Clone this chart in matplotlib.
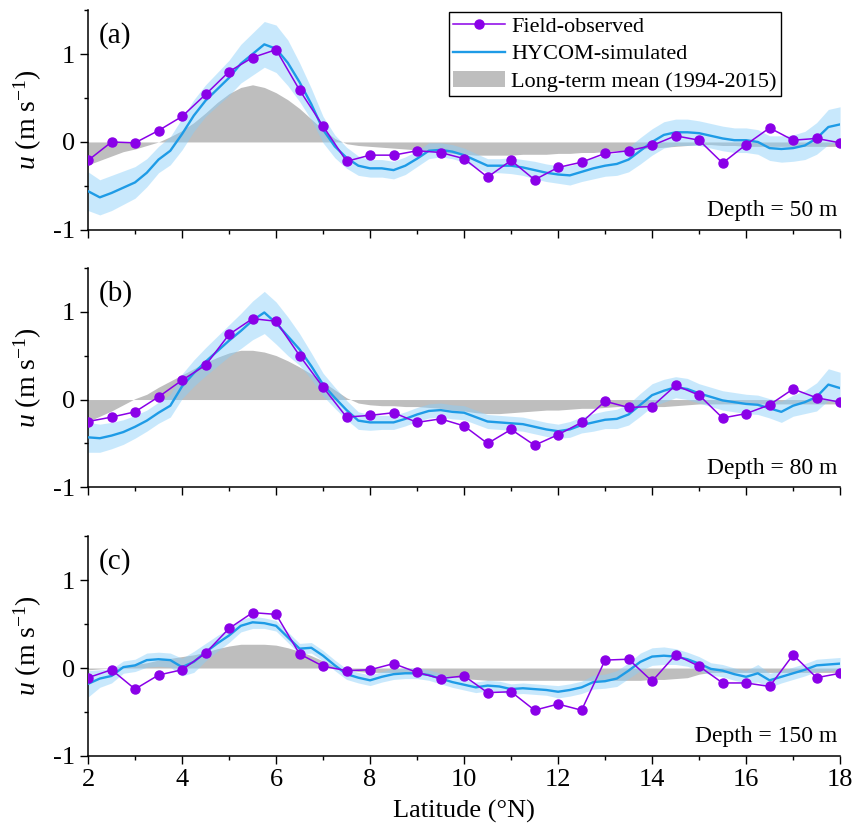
import numpy as np
import matplotlib
matplotlib.use('Agg')
import matplotlib.pyplot as plt
from matplotlib.ticker import MultipleLocator

plt.rcParams['font.family'] = 'Liberation Serif'
plt.rcParams['mathtext.fontset'] = 'custom'
plt.rcParams['mathtext.rm'] = 'Liberation Serif'
plt.rcParams['mathtext.it'] = 'Liberation Serif:italic'
plt.rcParams['axes.unicode_minus'] = False

# field stations every 0.5 deg, model / climatology every 0.25 deg
lat_obs = np.arange(2.0, 18.01, 0.5)
lat_mod = np.arange(2.0, 18.01, 0.25)

obs_50 = [-0.21, 0.00, -0.01, 0.13, 0.29, 0.54, 0.80, 0.96, 1.05, 0.59, 0.18,
          -0.22, -0.15, -0.15, -0.10, -0.12, -0.19, -0.40, -0.21, -0.43, -0.29,
          -0.23, -0.13, -0.10, -0.04, 0.07, 0.02, -0.24, -0.03, 0.16, 0.02, 0.04, -0.01]
obs_80 = [-0.25, -0.20, -0.14, 0.03, 0.22, 0.39, 0.74, 0.92, 0.89, 0.50, 0.14,
          -0.20, -0.18, -0.15, -0.26, -0.22, -0.30, -0.50, -0.34, -0.52, -0.40,
          -0.26, -0.02, -0.09, -0.08, 0.16, 0.05, -0.21, -0.16, -0.06, 0.12, 0.02, -0.03]
obs_150 = [-0.11, -0.02, -0.24, -0.08, -0.02, 0.17, 0.45, 0.63, 0.61, 0.16, 0.02,
           -0.03, -0.02, 0.05, -0.05, -0.12, -0.09, -0.28, -0.27, -0.48, -0.41,
           -0.48, 0.09, 0.10, -0.15, 0.15, 0.02, -0.17, -0.17, -0.21, 0.15, -0.11, -0.06]

hycom_50 = [-0.56, -0.63, -0.58, -0.52, -0.46, -0.35, -0.20, -0.10, 0.09,
            0.30, 0.47, 0.60, 0.73, 0.89, 1.00, 1.11, 1.06,
            0.90, 0.68, 0.43, 0.14, -0.05, -0.18, -0.27, -0.30,
            -0.30, -0.32, -0.27, -0.19, -0.10, -0.09, -0.11, -0.15,
            -0.21, -0.27, -0.27, -0.27, -0.29, -0.32, -0.35, -0.37,
            -0.38, -0.34, -0.30, -0.27, -0.25, -0.20, -0.10, 0.00,
            0.08, 0.11, 0.11, 0.10, 0.07, 0.04, 0.02, 0.02,
            0.00, -0.07, -0.08, -0.07, -0.04, 0.04, 0.17, 0.20]
hycom_80 = [-0.43, -0.44, -0.41, -0.37, -0.31, -0.24, -0.15, -0.07, 0.15,
            0.30, 0.43, 0.55, 0.67, 0.78, 0.90, 0.99, 0.87,
            0.72, 0.57, 0.38, 0.17, 0.02, -0.12, -0.24, -0.26,
            -0.26, -0.26, -0.22, -0.17, -0.13, -0.12, -0.14, -0.15,
            -0.20, -0.25, -0.26, -0.27, -0.28, -0.31, -0.34, -0.36,
            -0.34, -0.29, -0.26, -0.23, -0.22, -0.17, -0.06, 0.05,
            0.10, 0.14, 0.12, 0.07, 0.03, -0.01, -0.03, -0.05,
            -0.06, -0.10, -0.14, -0.07, -0.03, 0.03, 0.17, 0.13]
hycom_150 = [-0.18, -0.12, -0.09, 0.01, 0.03, 0.09, 0.10, 0.09, 0.01,
             0.07, 0.18, 0.28, 0.37, 0.48, 0.52, 0.51, 0.48,
             0.35, 0.22, 0.23, 0.14, 0.03, -0.07, -0.11, -0.14,
             -0.10, -0.07, -0.06, -0.06, -0.08, -0.12, -0.16, -0.19,
             -0.22, -0.20, -0.21, -0.24, -0.23, -0.24, -0.25, -0.27,
             -0.25, -0.22, -0.16, -0.15, -0.12, -0.03, 0.07, 0.13,
             0.14, 0.13, 0.10, 0.05, -0.01, -0.03, -0.07, -0.10,
             -0.06, -0.14, -0.10, -0.06, -0.02, 0.03, 0.04, 0.05]

# half width of the shaded HYCOM range
spread_50 = [0.22, 0.20, 0.20, 0.19, 0.18, 0.16, 0.15, 0.16, 0.18,
             0.18, 0.18, 0.19, 0.20, 0.22, 0.24, 0.26, 0.27,
             0.26, 0.22, 0.18, 0.15, 0.13, 0.12, 0.11, 0.10,
             0.10, 0.10, 0.10, 0.09, 0.09, 0.08, 0.08, 0.08,
             0.08, 0.08, 0.08, 0.09, 0.09, 0.10, 0.10, 0.10,
             0.11, 0.11, 0.12, 0.12, 0.13, 0.14, 0.15, 0.15,
             0.15, 0.15, 0.15, 0.14, 0.14, 0.14, 0.14, 0.14,
             0.14, 0.14, 0.15, 0.15, 0.16, 0.18, 0.20, 0.20]
spread_80 = [0.17, 0.16, 0.15, 0.14, 0.13, 0.12, 0.12, 0.13, 0.14,
             0.15, 0.16, 0.17, 0.18, 0.20, 0.22, 0.24, 0.24,
             0.22, 0.18, 0.15, 0.13, 0.12, 0.11, 0.10, 0.09,
             0.08, 0.08, 0.08, 0.08, 0.08, 0.08, 0.08, 0.08,
             0.08, 0.08, 0.08, 0.08, 0.08, 0.08, 0.08, 0.08,
             0.09, 0.09, 0.10, 0.10, 0.11, 0.12, 0.13, 0.13,
             0.13, 0.12, 0.12, 0.11, 0.11, 0.11, 0.11, 0.11,
             0.11, 0.11, 0.12, 0.12, 0.13, 0.16, 0.18, 0.18]
spread_150 = [0.15, 0.10, 0.08, 0.07, 0.07, 0.08, 0.08, 0.08, 0.10,
              0.12, 0.10, 0.09, 0.08, 0.07, 0.07, 0.06, 0.06,
              0.06, 0.06, 0.06, 0.06, 0.06, 0.06, 0.06, 0.06,
              0.06, 0.06, 0.06, 0.06, 0.06, 0.06, 0.06, 0.06,
              0.06, 0.06, 0.06, 0.06, 0.06, 0.06, 0.06, 0.07,
              0.07, 0.07, 0.08, 0.08, 0.09, 0.09, 0.10, 0.10,
              0.10, 0.09, 0.08, 0.08, 0.07, 0.07, 0.07, 0.07,
              0.10, 0.08, 0.07, 0.07, 0.07, 0.07, 0.07, 0.07]

# long-term mean 1994-2015
clim_50 = [-0.26, -0.21, -0.16, -0.11, -0.08, -0.04, 0.00, 0.06, 0.13,
           0.22, 0.33, 0.45, 0.55, 0.62, 0.65, 0.62, 0.56,
           0.48, 0.38, 0.26, 0.14, 0.04, -0.02, -0.04, -0.05,
           -0.06, -0.07, -0.08, -0.09, -0.10, -0.11, -0.13, -0.14,
           -0.15, -0.15, -0.15, -0.15, -0.14, -0.14, -0.14, -0.13,
           -0.13, -0.12, -0.12, -0.11, -0.10, -0.09, -0.08, -0.07,
           -0.06, -0.05, -0.04, -0.03, -0.03, -0.04, -0.04, -0.05,
           -0.05, -0.05, -0.05, -0.05, -0.05, -0.05, -0.05, -0.05]
clim_80 = [-0.25, -0.19, -0.13, -0.06, 0.01, 0.06, 0.14, 0.21, 0.28,
           0.35, 0.42, 0.48, 0.53, 0.56, 0.56, 0.54, 0.50,
           0.44, 0.37, 0.29, 0.20, 0.11, 0.02, -0.04, -0.06,
           -0.07, -0.07, -0.08, -0.08, -0.09, -0.10, -0.12, -0.13,
           -0.15, -0.16, -0.16, -0.15, -0.14, -0.13, -0.12, -0.12,
           -0.11, -0.10, -0.10, -0.09, -0.08, -0.08, -0.08, -0.08,
           -0.08, -0.07, -0.06, -0.05, -0.05, -0.05, -0.05, -0.05,
           -0.05, -0.05, -0.05, -0.05, -0.05, -0.05, -0.05, -0.05]
clim_150 = [-0.02, -0.01, 0.00, 0.02, 0.04, 0.06, 0.09, 0.11, 0.13,
            0.15, 0.18, 0.22, 0.25, 0.27, 0.27, 0.27, 0.26,
            0.23, 0.19, 0.14, 0.08, 0.02, -0.02, -0.04, -0.05,
            -0.05, -0.05, -0.06, -0.06, -0.07, -0.09, -0.10, -0.12,
            -0.13, -0.14, -0.14, -0.14, -0.14, -0.14, -0.14, -0.14,
            -0.14, -0.14, -0.14, -0.14, -0.14, -0.14, -0.14, -0.13,
            -0.13, -0.12, -0.11, -0.07, -0.05, -0.05, -0.05, -0.05,
            -0.05, -0.05, -0.05, -0.05, -0.05, -0.05, -0.05, -0.05]

panels = [('(a)', 'Depth = 50 m', obs_50, hycom_50, spread_50, clim_50),
          ('(b)', 'Depth = 80 m', obs_80, hycom_80, spread_80, clim_80),
          ('(c)', 'Depth = 150 m', obs_150, hycom_150, spread_150, clim_150)]

c_obs = '#8A00E8'
c_mod = '#1E9BE6'
c_band = '#87CEFA'
c_clim = '#BEBEBE'

fig = plt.figure(figsize=(8.59, 8.39), dpi=100)
tops = [0.988, 0.681, 0.361]
h = 0.262
axes = []
for i, (tag, depth, obs, mod, spr, clim) in enumerate(panels):
    ax = fig.add_axes([0.1025, tops[i] - h, 0.8755, h])
    axes.append(ax)
    mod = np.array(mod)
    spr = np.array(spr)
    ax.fill_between(lat_mod, 0, clim, color=c_clim, lw=0, zorder=1,
                    label='Long-term mean (1994-2015)')
    ax.fill_between(lat_mod, mod - spr, mod + spr, color=c_band, alpha=0.45,
                    lw=0, zorder=2)
    ax.plot(lat_mod, mod, color=c_mod, lw=1.7, zorder=3, label='HYCOM-simulated')
    ax.plot(lat_obs, obs, color=c_obs, lw=1.1, marker='o', ms=6.5, zorder=4,
            label='Field-observed')

    ax.set_xlim(2, 18)
    ax.set_ylim(-1, 1.5)
    ax.xaxis.set_major_locator(MultipleLocator(2))
    ax.xaxis.set_minor_locator(MultipleLocator(1))
    ax.yaxis.set_major_locator(MultipleLocator(1))
    ax.yaxis.set_minor_locator(MultipleLocator(0.5))
    ax.tick_params(which='major', length=6, width=1, labelsize=19, direction='out')
    ax.tick_params(which='minor', length=3, width=1, direction='out')
    for s in ['top', 'right']:
        ax.spines[s].set_visible(False)
    for s in ['left', 'bottom']:
        ax.spines[s].set_linewidth(1.1)
    if i < 2:
        ax.tick_params(labelbottom=False)
    ax.set_ylabel(r'$u$ (m s$^{-1}$)', fontsize=20, labelpad=6)
    ax.text(0.014, 0.945, tag, transform=ax.transAxes, fontsize=21,
            ha='left', va='top')
    ax.text(0.996, 0.04, depth, transform=ax.transAxes, fontsize=17,
            ha='right', va='bottom')

axes[2].set_xlabel('Latitude (°N)', fontsize=19, labelpad=6)

h1, l1 = axes[0].get_legend_handles_labels()
order = [2, 1, 0]
leg = axes[0].legend([h1[k] for k in order], [l1[k] for k in order],
                     loc='upper left', bbox_to_anchor=(0.48, 0.99),
                     fontsize=16, frameon=True, fancybox=False,
                     edgecolor='black', framealpha=1, borderaxespad=0,
                     handlelength=2.3, labelspacing=0.3, borderpad=0.2,
                     handletextpad=0.3)
leg.get_frame().set_linewidth(1.0)

fig.savefig('out.png', dpi=100)
